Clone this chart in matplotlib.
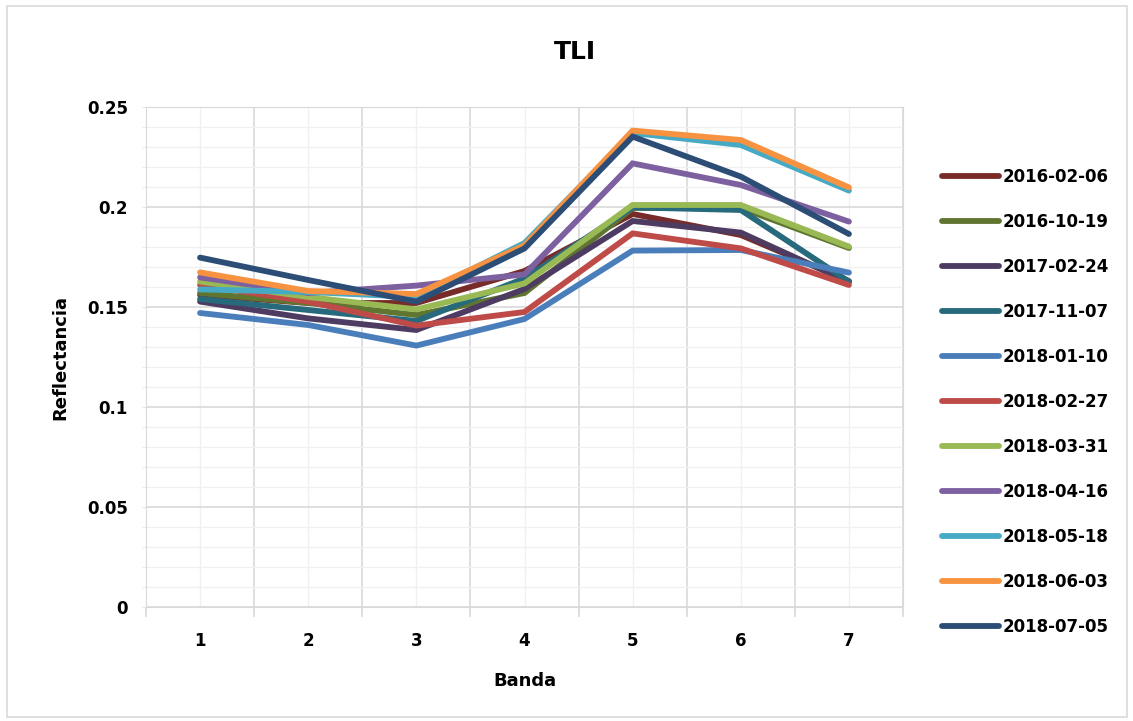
import matplotlib
matplotlib.use('Agg')
import matplotlib.pyplot as plt
from matplotlib.patches import Rectangle
from matplotlib.ticker import FixedLocator

# bands on the x axis
bands = [1, 2, 3, 4, 5, 6, 7]
yticks = [0, 0.05, 0.1, 0.15, 0.2, 0.25]
ytick_labels = ['0', '0.05', '0.1', '0.15', '0.2', '0.25']

# reflectance per date
r_20160206 = [0.156, 0.152, 0.152, 0.168, 0.1965, 0.186, 0.163]
r_20161019 = [0.157, 0.152, 0.146, 0.157, 0.1995, 0.1995, 0.1795]
r_20170224 = [0.1527, 0.1443, 0.1385, 0.159, 0.193, 0.1872, 0.1625]
r_20171107 = [0.154, 0.1485, 0.143, 0.1643, 0.1998, 0.1985, 0.1627]
r_20180110 = [0.147, 0.141, 0.1307, 0.144, 0.1782, 0.1785, 0.1672]
r_20180227 = [0.161, 0.1527, 0.1407, 0.1475, 0.1868, 0.1793, 0.161]
r_20180331 = [0.1627, 0.155, 0.1488, 0.1618, 0.201, 0.201, 0.1802]
r_20180416 = [0.1648, 0.157, 0.1607, 0.1663, 0.2218, 0.211, 0.1927]
r_20180518 = [0.1588, 0.1575, 0.155, 0.182, 0.237, 0.231, 0.2082]
r_20180603 = [0.1673, 0.158, 0.1565, 0.1808, 0.2382, 0.2335, 0.2098]
r_20180705 = [0.1747, 0.1635, 0.1527, 0.1793, 0.2352, 0.2152, 0.1865]

labels = ['2016-02-06', '2016-10-19', '2017-02-24', '2017-11-07', '2018-01-10',
          '2018-02-27', '2018-03-31', '2018-04-16', '2018-05-18', '2018-06-03',
          '2018-07-05']
series = [r_20160206, r_20161019, r_20170224, r_20171107, r_20180110,
          r_20180227, r_20180331, r_20180416, r_20180518, r_20180603,
          r_20180705]
colors = ['#772C2A', '#5F7530', '#4D3B62', '#276A7C', '#4A7EBB',
          '#BE4B48', '#98B954', '#7D60A0', '#46AAC5', '#F69240',
          '#2C4D75']

plt.rcParams['font.family'] = ['DejaVu Sans']
plt.rcParams['font.weight'] = 'bold'

fig = plt.figure(figsize=(11.33, 7.21), dpi=100)
fig.patches.append(Rectangle((0.006, 0.005), 0.989, 0.986, transform=fig.transFigure,
                             fill=False, edgecolor='#D9D9D9', linewidth=1.2))
ax = fig.add_axes([146/1133, 114/721, 757/1133, 500/721])

for vals, lab, col in zip(series, labels, colors):
    ax.plot(bands, vals, color=col, linewidth=4.2, label=lab, solid_capstyle='round',
            solid_joinstyle='miter')

ax.set_xlim(0.5, 7.5)
ax.set_ylim(0, 0.25)
ax.set_xticks(bands)
ax.xaxis.set_minor_locator(FixedLocator([b + 0.5 for b in [0] + bands]))
ax.set_yticks(yticks)
ax.set_yticklabels(ytick_labels)
ax.yaxis.set_minor_locator(FixedLocator([i * 0.01 for i in range(26)]))

# grid: vertical major at category boundaries, lighter lines at centers
ax.grid(which='minor', axis='x', color='#D9D9D9', linewidth=1.2)
ax.grid(which='major', axis='x', color='#F0F0F0', linewidth=1.0)
ax.grid(which='major', axis='y', color='#D9D9D9', linewidth=1.2)
ax.grid(which='minor', axis='y', color='#F0F0F0', linewidth=1.0)
ax.set_axisbelow(True)

for s in ['top', 'right', 'left', 'bottom']:
    ax.spines[s].set_color('#D9D9D9')
ax.tick_params(axis='x', which='major', length=0, pad=18, labelsize=12)
ax.tick_params(axis='x', which='minor', length=7, color='#D9D9D9', width=1.2)
ax.tick_params(axis='y', which='both', length=3, color='#E6E6E6', pad=10, labelsize=12)

ax.set_xlabel('Banda', fontsize=13, fontweight='bold', labelpad=16)
ax.set_ylabel('Reflectancia', fontsize=13, fontweight='bold', labelpad=13)
# chart title is centred on the whole chart, not on the plot area
fig.text(575/1133, 1 - 52/721, 'TLI', fontsize=18, fontweight='bold',
         ha='center', va='center')

fig.legend(loc='center left', bbox_to_anchor=(942/1133, 0.4424), frameon=False,
           fontsize=12, handlelength=3.4, handletextpad=0.25, labelspacing=1.62,
           borderpad=0, borderaxespad=0)

fig.savefig('out.png', dpi=100)
